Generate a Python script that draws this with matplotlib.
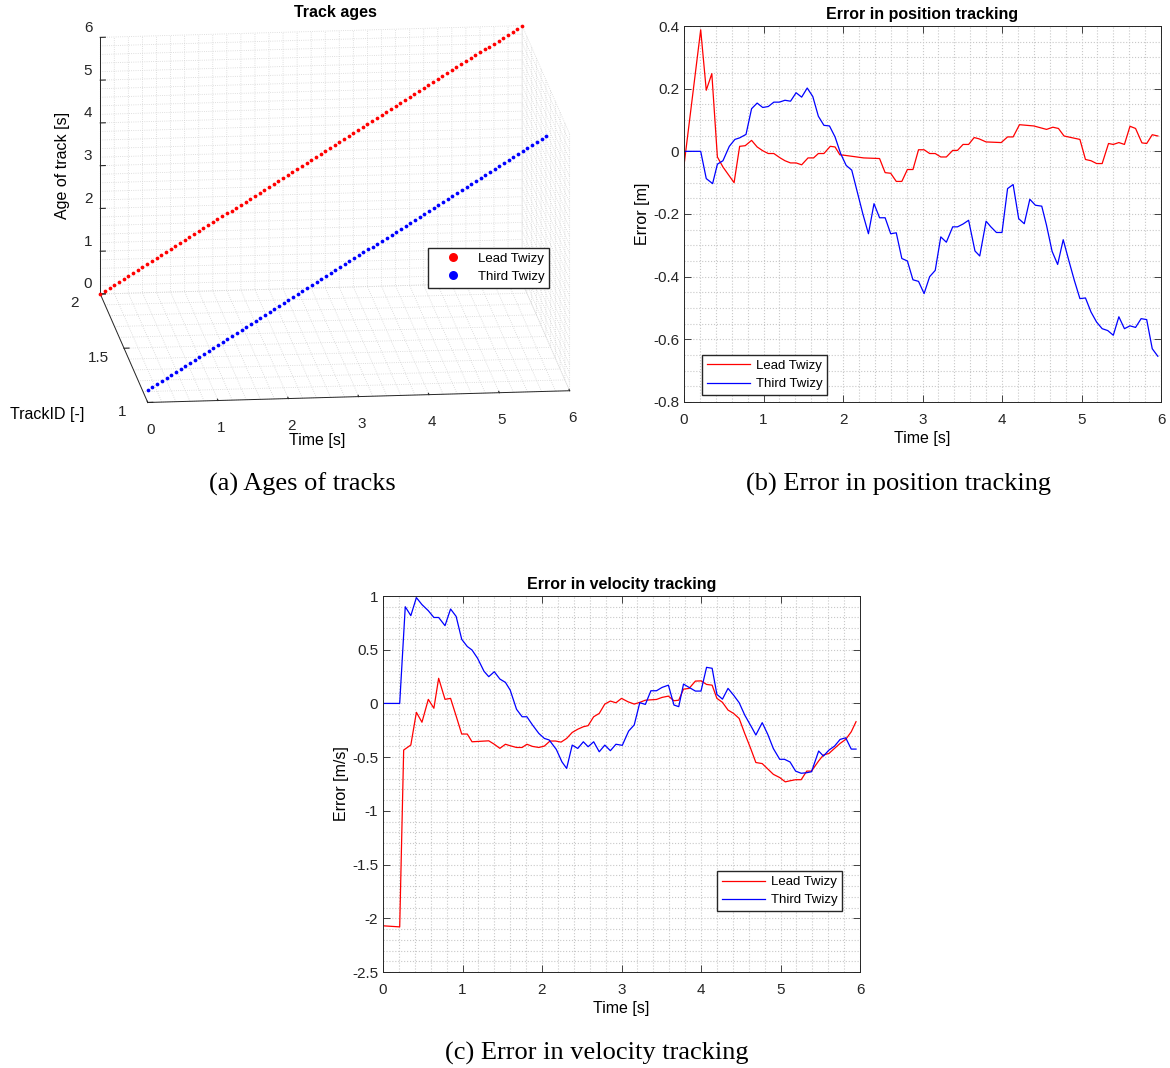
import numpy as np
import matplotlib
matplotlib.use('Agg')
import matplotlib.pyplot as plt
from matplotlib.ticker import MultipleLocator, FormatStrFormatter

plt.rcParams['font.family'] = ['Liberation Sans', 'DejaVu Sans']
plt.rcParams['axes.unicode_minus'] = False

# ---------------- data ----------------
# (a) track ages: sample times [s] and track start offsets
t_lead_a = np.arange(0, 6.0001, 1 / 15)
t_third_a = np.arange(0, 5.70001, 1 / 15)
age_offset_lead = 0.0
age_offset_third = 0.3
id_lead = 2
id_third = 1

# (b) error in position tracking [m]
t_pos_lead = [0.0, 0.21, 0.28, 0.35, 0.42, 0.49, 0.63, 0.70, 0.77, 0.85, 0.92, 0.99, 1.06, 1.13,
              1.21, 1.27, 1.34, 1.41, 1.48, 1.56, 1.63, 1.69, 1.76, 1.84, 1.90, 1.96, 2.03, 2.26,
              2.46, 2.53, 2.60, 2.67, 2.74, 2.81, 2.88, 2.95, 3.02, 3.09, 3.16, 3.23, 3.30, 3.38,
              3.44, 3.51, 3.58, 3.65, 3.71, 3.80, 3.99, 4.07, 4.14, 4.22, 4.40, 4.56, 4.64, 4.71,
              4.78, 4.98, 5.05, 5.12, 5.19, 5.26, 5.34, 5.40, 5.47, 5.54, 5.61, 5.68, 5.76, 5.82,
              5.89, 5.96]
e_pos_lead = [-0.045, 0.388, 0.195, 0.248, -0.018, -0.05, -0.1, 0.016, 0.018, 0.035, 0.014, 0.002,
              -0.007, -0.007, -0.021, -0.03, -0.037, -0.037, -0.043, -0.021, -0.021, -0.007, -0.007,
              0.016, 0.014, -0.011, -0.013, -0.021, -0.023, -0.068, -0.07, -0.096, -0.096, -0.058,
              -0.058, 0.005, 0.005, -0.007, -0.007, -0.018, -0.018, 0.003, 0.003, 0.022, 0.022,
              0.044, 0.04, 0.03, 0.028, 0.046, 0.046, 0.085, 0.081, 0.07, 0.077, 0.073, 0.049,
              0.038, -0.026, -0.03, -0.039, -0.039, 0.025, 0.022, 0.028, 0.022, 0.08, 0.073, 0.027,
              0.025, 0.053, 0.049]
t_pos_third = [0.0, 0.21, 0.28, 0.36, 0.42, 0.49, 0.57, 0.64, 0.70, 0.78, 0.85, 0.92, 0.99, 1.06,
               1.13, 1.20, 1.27, 1.34, 1.41, 1.48, 1.55, 1.62, 1.69, 1.76, 1.83, 1.90, 1.97, 2.04,
               2.11, 2.18, 2.25, 2.32, 2.39, 2.46, 2.53, 2.60, 2.67, 2.74, 2.81, 2.88, 2.95, 3.02,
               3.09, 3.16, 3.23, 3.30, 3.38, 3.44, 3.51, 3.58, 3.66, 3.72, 3.80, 3.86, 3.93, 4.00,
               4.07, 4.14, 4.21, 4.28, 4.35, 4.42, 4.50, 4.56, 4.63, 4.70, 4.77, 4.84, 4.91, 4.98,
               5.05, 5.12, 5.19, 5.26, 5.33, 5.40, 5.47, 5.54, 5.61, 5.68, 5.75, 5.82, 5.89, 5.96]
e_pos_third = [0.0, 0.0, -0.087, -0.103, -0.041, -0.03, 0.016, 0.038, 0.043, 0.054, 0.136, 0.154,
               0.14, 0.143, 0.157, 0.157, 0.163, 0.16, 0.187, 0.173, 0.202, 0.175, 0.112, 0.083,
               0.081, 0.046, -0.007, -0.045, -0.06, -0.13, -0.2, -0.263, -0.167, -0.212, -0.212,
               -0.263, -0.26, -0.342, -0.35, -0.41, -0.415, -0.454, -0.4, -0.38, -0.273, -0.29,
               -0.241, -0.241, -0.232, -0.22, -0.318, -0.334, -0.223, -0.241, -0.259, -0.259,
               -0.119, -0.106, -0.215, -0.231, -0.153, -0.172, -0.175, -0.236, -0.319, -0.361,
               -0.282, -0.348, -0.412, -0.47, -0.468, -0.513, -0.545, -0.566, -0.572, -0.587,
               -0.528, -0.566, -0.557, -0.562, -0.534, -0.537, -0.63, -0.654]

# (c) error in velocity tracking [m/s]
t_vel_lead = [0.0, 0.21, 0.26, 0.35, 0.42, 0.49, 0.57, 0.64, 0.70, 0.78, 0.85, 0.92, 0.99, 1.06,
              1.12, 1.33, 1.40, 1.47, 1.54, 1.60, 1.68, 1.75, 1.81, 1.88, 1.96, 2.03, 2.10, 2.17,
              2.24, 2.31, 2.38, 2.45, 2.52, 2.58, 2.65, 2.72, 2.79, 2.86, 2.93, 3.00, 3.08, 3.16,
              3.23, 3.30, 3.44, 3.51, 3.59, 3.66, 3.72, 3.78, 3.85, 3.93, 4.00, 4.07, 4.14, 4.20,
              4.27, 4.34, 4.41, 4.48, 4.55, 4.62, 4.69, 4.77, 4.84, 4.91, 4.99, 5.06, 5.12, 5.19,
              5.26, 5.33, 5.39, 5.48, 5.54, 5.61, 5.68, 5.75, 5.82, 5.89, 5.95]
e_vel_lead = [-2.07, -2.08, -0.434, -0.387, -0.083, -0.175, 0.038, -0.045, 0.234, 0.038, 0.047,
              -0.117, -0.285, -0.285, -0.357, -0.348, -0.38, -0.418, -0.38, -0.394, -0.41, -0.41,
              -0.38, -0.4, -0.41, -0.397, -0.35, -0.35, -0.36, -0.326, -0.27, -0.24, -0.217,
              -0.207, -0.124, -0.093, -0.006, 0.022, 0.006, 0.047, 0.016, -0.006, 0.01, 0.03,
              0.037, 0.056, 0.068, 0.025, 0.03, 0.133, 0.14, 0.208, 0.21, 0.177, 0.17, 0.047,
              0.01, -0.062, -0.093, -0.14, -0.28, -0.41, -0.55, -0.56, -0.61, -0.66, -0.69, -0.73,
              -0.72, -0.71, -0.71, -0.63, -0.63, -0.535, -0.48, -0.465, -0.418, -0.372, -0.335,
              -0.264, -0.17]
t_vel_third = [0.0, 0.21, 0.28, 0.35, 0.42, 0.49, 0.57, 0.64, 0.70, 0.78, 0.85, 0.92, 0.99, 1.06,
               1.12, 1.19, 1.27, 1.33, 1.40, 1.47, 1.54, 1.60, 1.68, 1.75, 1.81, 1.88, 1.96, 2.03,
               2.09, 2.18, 2.25, 2.31, 2.38, 2.45, 2.52, 2.58, 2.65, 2.72, 2.79, 2.86, 2.93, 3.01,
               3.09, 3.16, 3.23, 3.30, 3.37, 3.44, 3.51, 3.59, 3.66, 3.72, 3.78, 3.85, 3.93, 4.00,
               4.07, 4.14, 4.20, 4.27, 4.34, 4.41, 4.48, 4.55, 4.64, 4.69, 4.77, 4.84, 4.91, 4.99,
               5.05, 5.12, 5.19, 5.26, 5.33, 5.39, 5.48, 5.54, 5.61, 5.68, 5.75, 5.82, 5.89, 5.95]
e_vel_third = [0.0, 0.0, 0.90, 0.817, 0.985, 0.92, 0.863, 0.80, 0.80, 0.724, 0.879, 0.81, 0.597,
               0.53, 0.497, 0.42, 0.30, 0.249, 0.295, 0.227, 0.196, 0.124, -0.055, -0.124, -0.124,
               -0.20, -0.279, -0.326, -0.34, -0.428, -0.543, -0.605, -0.388, -0.419, -0.357,
               -0.403, -0.357, -0.45, -0.388, -0.44, -0.38, -0.39, -0.257, -0.2, 0.007, -0.009,
               0.118, 0.118, 0.149, 0.17, -0.015, -0.03, 0.18, 0.149, 0.115, 0.115, 0.336, 0.327,
               0.084, 0.04, 0.14, 0.077, 0.007, -0.108, -0.226, -0.294, -0.179, -0.288, -0.42,
               -0.52, -0.52, -0.545, -0.63, -0.65, -0.645, -0.636, -0.443, -0.49, -0.434, -0.397,
               -0.335, -0.32, -0.425, -0.425]

labels = ['Lead Twizy', 'Third Twizy']

# ---------------- figure ----------------
W, H = 1170, 1068
fig = plt.figure(figsize=(W / 100, H / 100), dpi=100)
dark = '#262626'
gridc = '#c8c8c8'


def fx(px):
    return px / W


def fy(py):
    return 1 - py / H


def style2d(ax, ylim, ymaj, ymin):
    ax.set_xlim(0, 6)
    ax.set_ylim(*ylim)
    ax.xaxis.set_major_locator(MultipleLocator(1))
    ax.xaxis.set_minor_locator(MultipleLocator(0.2))
    ax.yaxis.set_major_locator(MultipleLocator(ymaj))
    ax.yaxis.set_minor_locator(MultipleLocator(ymin))
    ax.yaxis.set_major_formatter(FormatStrFormatter('%g'))
    ax.xaxis.set_major_formatter(FormatStrFormatter('%g'))
    ax.grid(which='both', color=gridc, linestyle=':', linewidth=0.8)
    ax.tick_params(which='both', direction='in', top=True, right=True, colors=dark,
                   labelsize=11, width=0.6)
    ax.tick_params(which='major', length=5)
    ax.tick_params(which='minor', length=0)
    ax.tick_params(axis='x', pad=8)
    for s in ax.spines.values():
        s.set_color(dark)
        s.set_linewidth(0.7)
    ax.set_axisbelow(True)


leg_kw = dict(fontsize=9.5, fancybox=False, edgecolor=dark, framealpha=1, handlelength=3.3,
              borderpad=0.35, labelspacing=0.45, handletextpad=0.4, borderaxespad=0)

# (b)
ax_b = fig.add_axes([fx(684), fy(402), fx(1161) - fx(684), fy(26) - fy(402)])
ax_b.plot(t_pos_lead, e_pos_lead, color='#ff0000', lw=0.9, label=labels[0])
ax_b.plot(t_pos_third, e_pos_third, color='#0000ff', lw=0.9, label=labels[1])
style2d(ax_b, (-0.8, 0.4), 0.2, 0.05)
ax_b.set_title('Error in position tracking', fontsize=11.5, fontweight='bold', pad=5)
ax_b.set_xlabel('Time [s]', fontsize=11.5, labelpad=3)
ax_b.set_ylabel('Error [m]', fontsize=11.5, labelpad=2)
ax_b.legend(loc='lower left', bbox_to_anchor=(0.038, 0.019), **leg_kw)

# (c)
ax_c = fig.add_axes([fx(383), fy(972), fx(860) - fx(383), fy(596) - fy(972)])
ax_c.plot(t_vel_lead, e_vel_lead, color='#ff0000', lw=0.9, label=labels[0])
ax_c.plot(t_vel_third, e_vel_third, color='#0000ff', lw=0.9, label=labels[1])
style2d(ax_c, (-2.5, 1), 0.5, 0.1)
ax_c.set_title('Error in velocity tracking', fontsize=11.5, fontweight='bold', pad=5)
ax_c.set_xlabel('Time [s]', fontsize=11.5, labelpad=3)
ax_c.set_ylabel('Error [m/s]', fontsize=11.5, labelpad=2)
ax_c.legend(loc='lower right', bbox_to_anchor=(0.962, 0.162), **leg_kw)

# (a) 3D
ax_a = fig.add_axes([fx(49), fy(440), fx(609) - fx(49), fy(0) - fy(440)], projection='3d',
                    proj_type='ortho')
ax_a.view_init(elev=14.6, azim=-96.3)
ax_a.set_box_aspect((423.5, 432, 264.6), zoom=1.46)
ax_a.plot(t_lead_a, np.full(len(t_lead_a), id_lead), t_lead_a + age_offset_lead,
          linestyle='none', marker='o', ms=2.7, mew=0, color='#ff0000', label=labels[0],
          clip_on=False)
ax_a.plot(t_third_a, np.full(len(t_third_a), id_third), t_third_a + age_offset_third,
          linestyle='none', marker='o', ms=2.7, mew=0, color='#0000ff', label=labels[1],
          clip_on=False)
ax_a.set_xlim(0, 6)
ax_a.set_ylim(1, 2)
ax_a.set_zlim(0, 6)
ax_a.set_xticks(range(7))
ax_a.set_yticks([1, 1.5, 2])
ax_a.set_zticks(range(7))
ax_a.set_yticklabels(['1', '1.5', '2'])
ax_a.xaxis.set_minor_locator(MultipleLocator(0.2))
ax_a.yaxis.set_minor_locator(MultipleLocator(0.1))
ax_a.zaxis.set_minor_locator(MultipleLocator(0.2))
for axis in (ax_a.xaxis, ax_a.yaxis, ax_a.zaxis):
    axis.set_pane_color((1, 1, 1, 0))
    axis.pane.set_edgecolor('none')
    axis.line.set_color(dark)
    axis.line.set_linewidth(0.7)
    axis._axinfo['grid'].update({'color': '#d4d4d4', 'linestyle': ':', 'linewidth': 0.6})
    axis._axinfo['tick'].update({'inward_factor': 0.0, 'outward_factor': 0.15})
    axis.set_tick_params(which='minor', color=(1, 1, 1, 0))
    axis.set_tick_params(which='major', colors=dark, labelsize=11)
ax_a.xaxis.set_tick_params(which='major', pad=1.3)
ax_a.yaxis.set_tick_params(which='major', pad=2.1)
ax_a.zaxis.set_tick_params(which='major', pad=-3.7)
for lab in ax_a.zaxis.get_ticklabels() + ax_a.yaxis.get_ticklabels():
    lab.set_va('bottom')
ax_a.grid(True)
fig.text(fx(335), fy(13), 'Track ages', ha='center', va='center', fontsize=11.5,
         fontweight='bold')
fig.text(fx(62), fy(165), 'Age of track [s]', rotation=90, ha='center', va='center',
         fontsize=11.5)
fig.text(fx(47), fy(415), 'TrackID [-]', ha='center', va='center', fontsize=11.5)
fig.text(fx(317), fy(440), 'Time [s]', ha='center', va='center', fontsize=11.5)
fig.legend(*ax_a.get_legend_handles_labels(), loc='upper left',
           bbox_to_anchor=(fx(428), fy(248)), fontsize=9.5, fancybox=False, edgecolor=dark,
           framealpha=1, markerscale=2.4, borderpad=0.35, labelspacing=0.45,
           handlelength=3.1, handletextpad=0.35, borderaxespad=0, numpoints=1)

# captions
cap = dict(ha='center', va='center', fontsize=19, family=['Liberation Serif', 'DejaVu Serif'])
fig.text(fx(302), fy(484), '(a) Ages of tracks', **cap)
fig.text(fx(898), fy(484), '(b) Error in position tracking', **cap)
fig.text(fx(597), fy(1053), '(c) Error in velocity tracking', **cap)

fig.savefig('out.png', dpi=100)
